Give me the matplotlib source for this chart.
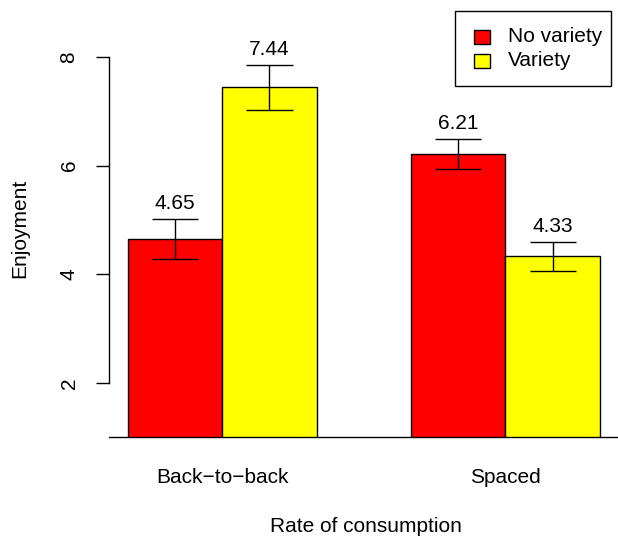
import matplotlib
matplotlib.use('Agg')
import matplotlib.pyplot as plt
from matplotlib.patches import Rectangle

plt.rcParams['font.family'] = ['Liberation Sans', 'DejaVu Sans']
plt.rcParams['font.size'] = 15

categories = ['Back\u2212to\u2212back', 'Spaced']
series_names = ['No variety', 'Variety']
no_variety = [4.65, 6.21]
variety = [7.44, 4.33]
no_variety_err = [0.37, 0.28]
variety_err = [0.41, 0.27]
colors = ['#FF0000', '#FFFF00']
yticks = [2, 4, 6, 8]

W, H = 618, 536
fig = plt.figure(figsize=(W / 100, H / 100), dpi=100)
ax_bottom_px = 437.4
ax = fig.add_axes([109 / W, (H - ax_bottom_px) / H, 1 - 109 / W, ax_bottom_px / H])

group_starts = [1, 4]
values = [no_variety, variety]
errs = [no_variety_err, variety_err]
cap = 0.245
for s in range(2):
    xs = [g + s + 0.5 for g in group_starts]
    ax.bar(xs, values[s], width=1, bottom=0, color=colors[s],
           edgecolor='black', linewidth=1, zorder=2)
    for x, v, e in zip(xs, values[s], errs[s]):
        ax.vlines(x, v - e, v + e, color='black', linewidth=1, zorder=3)
        ax.hlines([v - e, v + e], x - cap, x + cap, color='black', linewidth=1, zorder=3)
        ax.annotate(f'{v:.2f}', xy=(x, v + e), xytext=(0, 7), textcoords='offset points',
                    ha='center', va='baseline', fontsize=15)

ax.axhline(1, color='black', linewidth=1, zorder=4, clip_on=False)

ax.set_xlim(0.8, 0.8 + (W - 109) / 94.4)
ax.set_ylim(1, 1 + ax_bottom_px / 54.35)

for sp in ['top', 'right', 'bottom']:
    ax.spines[sp].set_visible(False)
ax.spines['left'].set_bounds(2, 8)
ax.spines['left'].set_linewidth(1)

ax.set_yticks(yticks)
ax.set_yticklabels([str(t) for t in yticks], rotation=90, va='center')
ax.tick_params(axis='y', length=9.4, width=1, pad=12.5, labelsize=15)

centers = [g + 1 for g in group_starts]
ax.set_xticks(centers)
ax.set_xticklabels(categories, va='baseline')
ax.tick_params(axis='x', length=0, pad=(483 - ax_bottom_px) * 0.72, labelsize=15)

ax.set_xlabel('Rate of consumption', fontsize=15, va='baseline')
ax.xaxis.set_label_coords(0.5 + 2 / (W - 109), -(532 - ax_bottom_px) / ax_bottom_px)

fig.text(20 / W, 1 - 228 / H, 'Enjoyment', rotation=90, ha='center', va='center', fontsize=15)

# legend
def fx(px):
    return px / W

def fy(py):
    return 1 - py / H

fig.patches.append(Rectangle((fx(455), fy(86)), fx(611) - fx(455), fy(11) - fy(86),
                             transform=fig.transFigure, facecolor='white',
                             edgecolor='black', linewidth=1, zorder=5))
for i, (name, c) in enumerate(zip(series_names, colors)):
    yc = 37 + 24 * i
    fig.patches.append(Rectangle((fx(474), fy(yc + 7)), fx(490) - fx(474), fy(yc - 7) - fy(yc + 7),
                                 transform=fig.transFigure, facecolor=c,
                                 edgecolor='black', linewidth=1, zorder=6))
    fig.text(fx(508), fy(yc), name, ha='left', va='center', fontsize=15, zorder=7)

fig.savefig('out.png', dpi=100)
